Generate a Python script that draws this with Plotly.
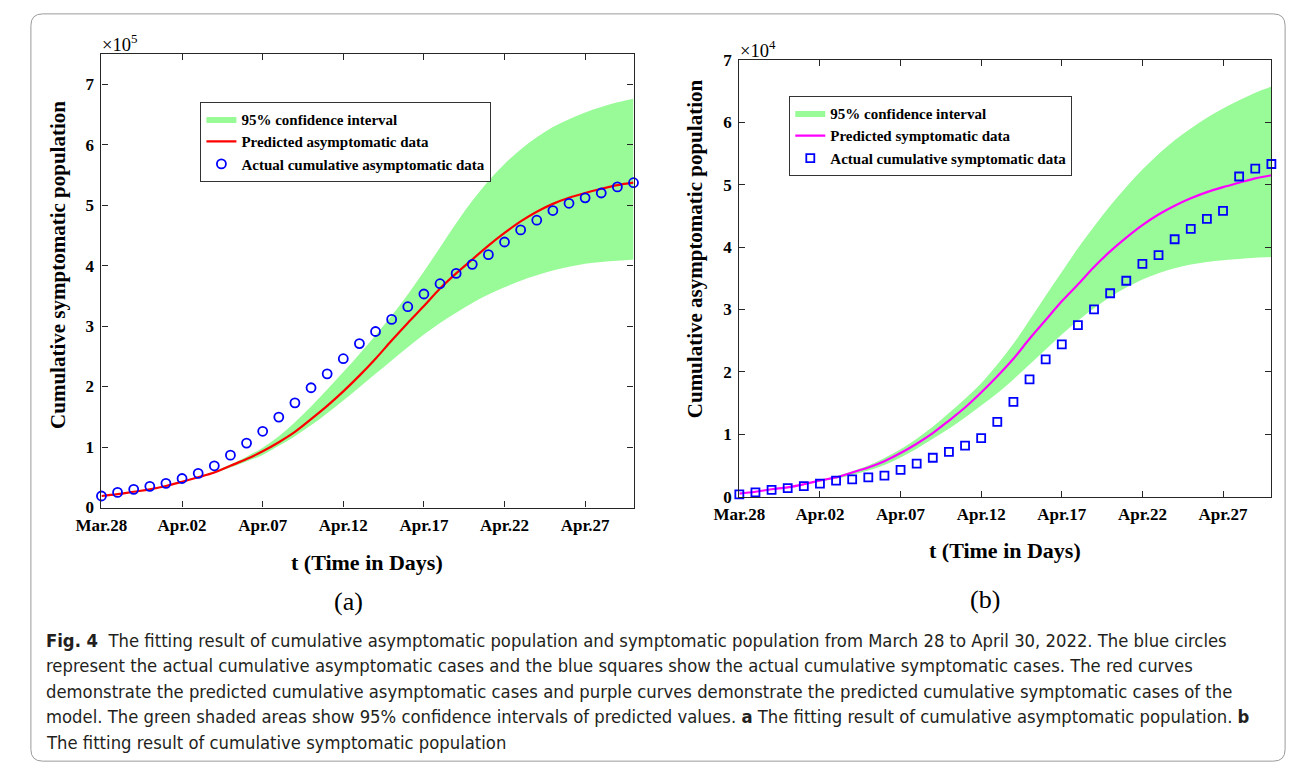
import plotly.graph_objects as go
import pandas as pd

# ---------------- data ----------------
dates = pd.date_range("2022-03-28", "2022-04-30", freq="D").strftime("%Y-%m-%d").tolist()
tick_vals = ["2022-03-28", "2022-04-02", "2022-04-07", "2022-04-12",
             "2022-04-17", "2022-04-22", "2022-04-27"]
tick_text = ["Mar.28", "Apr.02", "Apr.07", "Apr.12", "Apr.17", "Apr.22", "Apr.27"]

# panel (a): cumulative asymptomatic population, units of 1e5
asym_actual = [0.19, 0.25, 0.30, 0.35, 0.40, 0.48, 0.565, 0.69, 0.865, 1.065, 1.26, 1.495,
               1.73, 1.98, 2.21, 2.46, 2.71, 2.91, 3.11, 3.32, 3.53, 3.70, 3.87, 4.02,
               4.18, 4.39, 4.59, 4.75, 4.91, 5.03, 5.12, 5.20, 5.30, 5.37]
asym_pred = [0.19, 0.22, 0.26, 0.30, 0.355, 0.425, 0.50, 0.58, 0.69, 0.80, 0.93, 1.08,
             1.25, 1.46, 1.68, 1.92, 2.18, 2.46, 2.76, 3.05, 3.33, 3.62, 3.87, 4.10,
             4.33, 4.54, 4.73, 4.89, 5.02, 5.12, 5.20, 5.27, 5.33, 5.37]
asym_upper = [0.19, 0.22, 0.26, 0.31, 0.36, 0.43, 0.51, 0.60, 0.71, 0.84, 0.99, 1.18,
              1.41, 1.67, 1.95, 2.24, 2.54, 2.85, 3.17, 3.52, 3.90, 4.30, 4.70, 5.07,
              5.40, 5.68, 5.92, 6.12, 6.29, 6.42, 6.53, 6.62, 6.70, 6.76]
asym_lower = [0.19, 0.22, 0.26, 0.30, 0.35, 0.42, 0.49, 0.57, 0.66, 0.76, 0.87, 1.02,
              1.18, 1.36, 1.56, 1.77, 1.99, 2.21, 2.43, 2.65, 2.86, 3.05, 3.22, 3.38,
              3.52, 3.64, 3.75, 3.84, 3.92, 3.98, 4.03, 4.06, 4.08, 4.10]

# panel (b): cumulative symptomatic population, units of 1e4
sym_actual = [0.04, 0.07, 0.11, 0.14, 0.17, 0.21, 0.26, 0.28, 0.31, 0.34, 0.43, 0.53,
              0.625, 0.72, 0.82, 0.94, 1.20, 1.52, 1.88, 2.20, 2.44, 2.75, 3.00, 3.26,
              3.46, 3.73, 3.87, 4.125, 4.29, 4.45, 4.58, 5.13, 5.255, 5.33]
sym_pred = [0.05, 0.08, 0.12, 0.15, 0.20, 0.26, 0.31, 0.39, 0.47, 0.57, 0.70, 0.85,
            1.02, 1.22, 1.43, 1.67, 1.93, 2.21, 2.53, 2.83, 3.13, 3.40, 3.68, 3.93,
            4.15, 4.35, 4.52, 4.66, 4.78, 4.88, 4.96, 5.03, 5.10, 5.15]
sym_upper = [0.05, 0.08, 0.12, 0.16, 0.21, 0.27, 0.33, 0.41, 0.50, 0.62, 0.76, 0.93,
             1.12, 1.34, 1.57, 1.82, 2.12, 2.45, 2.83, 3.22, 3.60, 3.98, 4.33, 4.66,
             4.96, 5.24, 5.49, 5.71, 5.90, 6.07, 6.22, 6.35, 6.47, 6.57]
sym_lower = [0.05, 0.08, 0.11, 0.15, 0.19, 0.24, 0.29, 0.35, 0.42, 0.51, 0.63, 0.77,
             0.93, 1.09, 1.27, 1.46, 1.66, 1.88, 2.12, 2.36, 2.60, 2.82, 3.02, 3.20,
             3.35, 3.48, 3.58, 3.66, 3.72, 3.76, 3.79, 3.81, 3.83, 3.84]

caption_lines = [
    "<b>Fig. 4</b>&nbsp; The fitting result of cumulative asymptomatic population and symptomatic population from March 28 to April 30, 2022. The blue circles",
    "represent the actual cumulative asymptomatic cases and the blue squares show the actual cumulative symptomatic cases. The red curves",
    "demonstrate the predicted cumulative asymptomatic cases and purple curves demonstrate the predicted cumulative symptomatic cases of the",
    "model. The green shaded areas show 95% confidence intervals of predicted values. <b>a</b> The fitting result of cumulative asymptomatic population. <b>b</b>",
    "The fitting result of cumulative symptomatic population",
]

# ---------------- figure ----------------
W, H = 1290, 777
def px(x):
    return x / W
def py(y):
    return 1 - y / H

SERIF = "Liberation Serif, Times New Roman, serif"
GREEN = "rgb(152,251,152)"
AX = "#262626"

fig = go.Figure()

def add_panel(xa, ya, leg, lower, upper, pred, actual, ci_name, pred_name, act_name,
              line_color, symbol, msize):
    fig.add_trace(go.Scatter(x=dates, y=lower, xaxis=xa, yaxis=ya, mode="lines",
                             line=dict(width=0, shape="spline"), showlegend=False,
                             hoverinfo="skip", legend=leg))
    fig.add_trace(go.Scatter(x=dates, y=upper, xaxis=xa, yaxis=ya, mode="lines",
                             line=dict(width=0, shape="spline"), fill="tonexty",
                             fillcolor=GREEN, name=ci_name, legend=leg))
    fig.add_trace(go.Scatter(x=dates, y=pred, xaxis=xa, yaxis=ya, mode="lines",
                             line=dict(color=line_color, width=2.2, shape="spline"),
                             name=pred_name, legend=leg))
    fig.add_trace(go.Scatter(x=dates, y=actual, xaxis=xa, yaxis=ya, mode="markers",
                             marker=dict(symbol=symbol, size=msize, color="blue",
                                         line=dict(color="blue", width=1.8)),
                             name=act_name, legend=leg, cliponaxis=False))

add_panel("x", "y", "legend", asym_lower, asym_upper, asym_pred, asym_actual,
          "95% confidence interval", "Predicted asymptomatic data",
          "Actual cumulative asymptomatic data", "red", "circle-open", 9)
add_panel("x2", "y2", "legend2", sym_lower, sym_upper, sym_pred, sym_actual,
          "95% confidence interval", "Predicted symptomatic data",
          "Actual cumulative symptomatic data", "magenta", "square-open", 8)

tickfont = dict(family=SERIF, size=17, color="black", weight="bold")
xcommon = dict(range=["2022-03-28", "2022-04-30"], tickvals=tick_vals, ticktext=tick_text,
               showline=True, mirror="ticks", linecolor=AX, linewidth=1.2,
               ticks="inside", ticklen=6, tickcolor=AX, tickwidth=1.2,
               showgrid=False, zeroline=False, tickfont=tickfont, ticklabelstandoff=2)
ycommon = dict(tickvals=[0, 1, 2, 3, 4, 5, 6, 7],
               showline=True, mirror="ticks", linecolor=AX, linewidth=1.2,
               ticks="inside", ticklen=6, tickcolor=AX, tickwidth=1.2,
               showgrid=False, zeroline=False, tickfont=tickfont, ticklabelstandoff=3)

legfont = dict(family=SERIF, size=15, color="black", weight="bold")
fig.update_layout(
    width=W, height=H, autosize=False,
    margin=dict(l=0, r=0, t=0, b=0),
    paper_bgcolor="white", plot_bgcolor="white",
    xaxis=dict(domain=[px(77), px(620)], anchor="y", **xcommon),
    yaxis=dict(domain=[py(511), py(46)], anchor="x", range=[0, 7.5], **ycommon),
    xaxis2=dict(domain=[px(728), px(1271)], anchor="y2", **xcommon),
    yaxis2=dict(domain=[py(500), py(52)], anchor="x2", range=[0, 7], **ycommon),
    legend=dict(x=px(178), y=py(95), xanchor="left", yanchor="top", traceorder="normal",
                bgcolor="white", bordercolor="#333333", borderwidth=1,
                font=legfont, tracegroupgap=0, itemwidth=30),
    legend2=dict(x=px(779), y=py(89), xanchor="left", yanchor="top", traceorder="normal",
                 bgcolor="white", bordercolor="#333333", borderwidth=1,
                 font=legfont, tracegroupgap=0, itemwidth=30),
    showlegend=True,
)

ann = []
def text(x, y, s, size, bold=False, family=SERIF, angle=0, xanchor="center", color="black"):
    ann.append(dict(x=px(x), y=py(y), xref="paper", yref="paper", text=s, showarrow=False,
                    textangle=angle, xanchor=xanchor, yanchor="middle",
                    font=dict(family=family, size=size, color=color,
                              weight="bold" if bold else "normal")))

text(76, 35, "×10<sup>5</sup>", 18.5, xanchor="left")
text(727, 41, "×10<sup>4</sup>", 18.5, xanchor="left")
text(32, 262, "Cumulative symptomatic population", 21, bold=True, angle=-90)
text(683, 246, "Cumulative asymptomatic population", 21, bold=True, angle=-90)
text(348.5, 567, "t (Time in Days)", 22, bold=True)
text(999.5, 555, "t (Time in Days)", 22, bold=True)
text(329, 607, "(a)", 26)
text(979, 605, "(b)", 26)

CAP = "Liberation Sans Narrow, DejaVu Sans Condensed, Arial Narrow, sans-serif"
for i, line in enumerate(caption_lines):
    text(18, 647 + i * 26.2, line, 18.3, family=CAP, xanchor="left", color="#231f20")

fig.update_layout(annotations=ann)

# rounded border around the figure
x0, y0, x1, y1, r = 5, 5, 1285, 771, 12
path = (f"M {px(x0 + r)} {py(y0)} L {px(x1 - r)} {py(y0)} "
        f"Q {px(x1)} {py(y0)} {px(x1)} {py(y0 + r)} L {px(x1)} {py(y1 - r)} "
        f"Q {px(x1)} {py(y1)} {px(x1 - r)} {py(y1)} L {px(x0 + r)} {py(y1)} "
        f"Q {px(x0)} {py(y1)} {px(x0)} {py(y1 - r)} L {px(x0)} {py(y0 + r)} "
        f"Q {px(x0)} {py(y0)} {px(x0 + r)} {py(y0)} Z")
fig.add_shape(type="path", path=path, xref="paper", yref="paper",
              line=dict(color="#9a9a9a", width=1), layer="below")

fig.write_html("out.html")
